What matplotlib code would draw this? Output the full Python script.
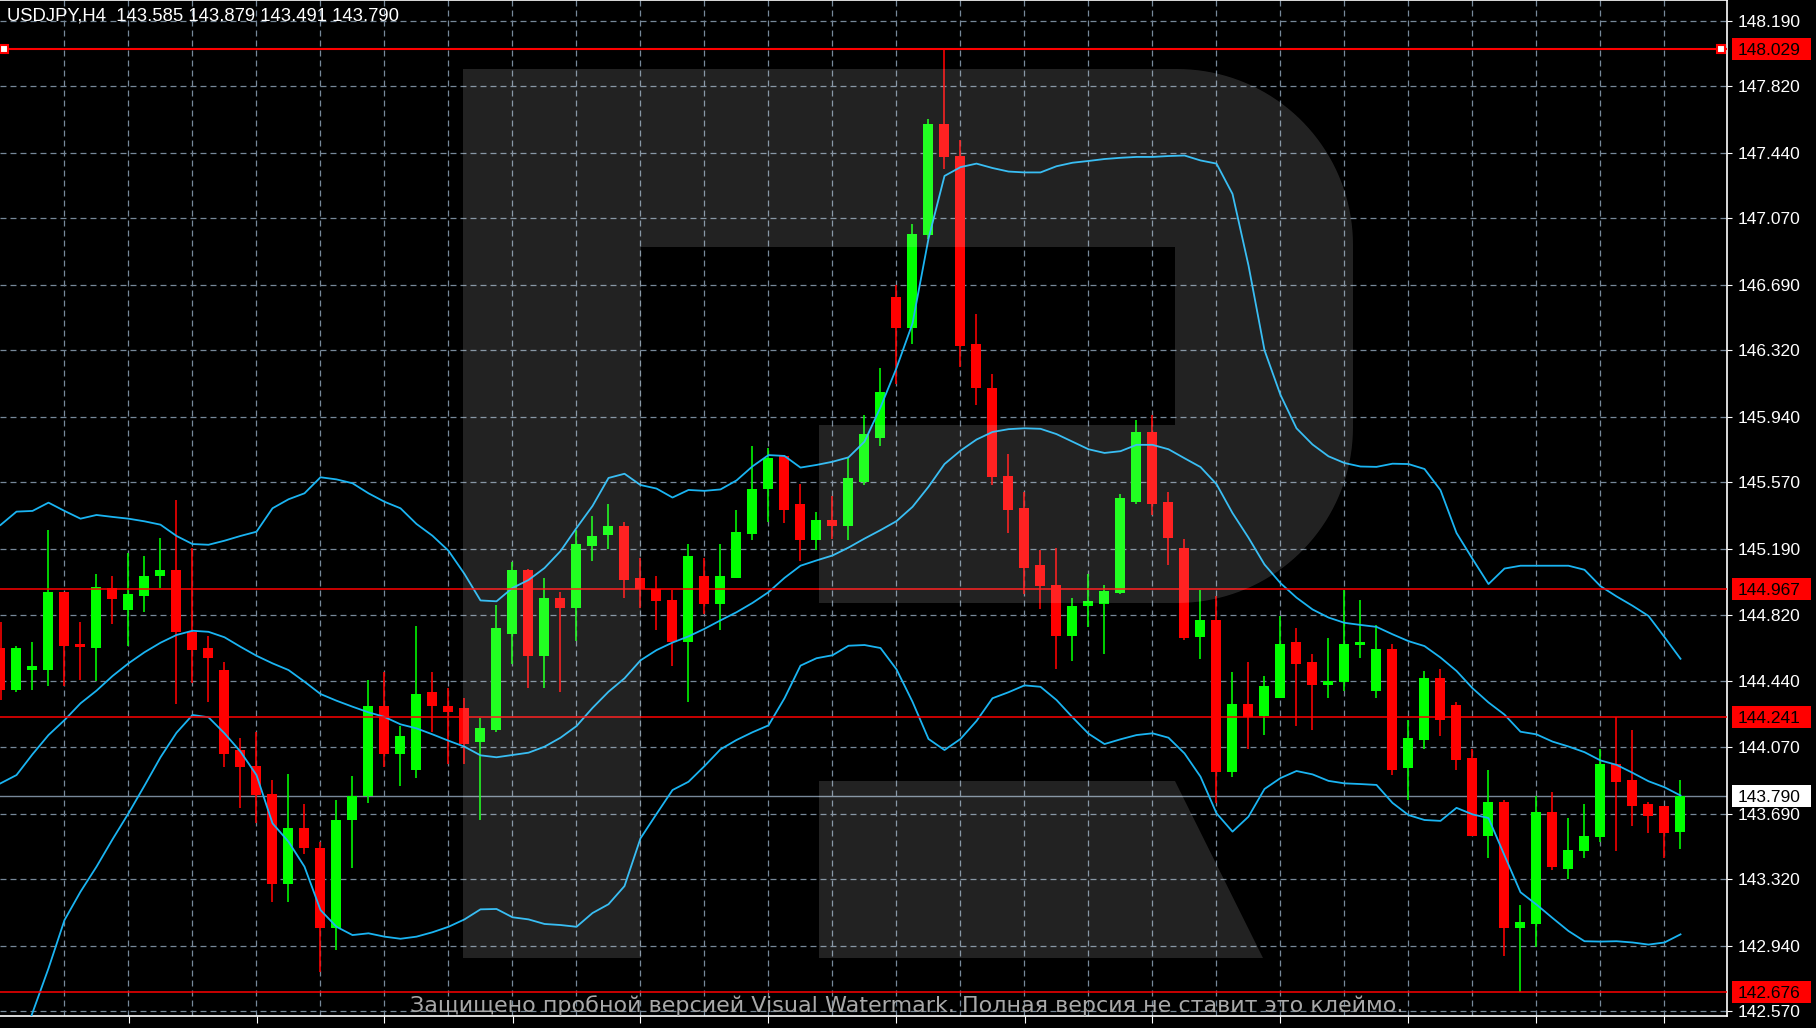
import numpy as np
import matplotlib.pyplot as plt
import matplotlib.transforms as mtransforms
from matplotlib.patches import Polygon, Rectangle

plt.rcParams['font.family'] = ['Liberation Sans', 'DejaVu Sans']
plt.rcParams['lines.scale_dashes'] = False

W, H = 1816, 1028

# header
title = "USDJPY,H4  143.585 143.879 143.491 143.790"
watermark = "Защищено пробной версией Visual Watermark. Полная версия не ставит это клеймо."

# H4 candles, oldest first
opens = [144.628, 144.392, 144.505, 144.505, 144.948, 144.653, 144.632, 144.969, 144.846, 144.927,
         145.040, 145.073, 144.723, 144.630, 144.505, 144.051, 143.962, 143.802, 143.292, 143.609,
         143.495, 143.043, 143.654, 143.792, 144.301, 144.030, 143.939, 144.381, 144.301, 144.290,
         144.098, 144.165, 144.711, 145.073, 144.586, 144.914, 144.859, 145.207, 145.269, 145.320,
         145.028, 144.965, 144.901, 144.666, 145.036, 144.881, 145.028, 145.276, 145.530, 145.720,
         145.446, 145.244, 145.358, 145.325, 145.573, 145.821, 146.624, 146.447, 146.972, 147.605,
         147.422, 146.356, 146.105, 145.606, 145.426, 145.099, 144.990, 144.699, 144.871, 144.881,
         144.944, 145.459, 145.856, 145.459, 145.198, 144.691, 144.789, 143.928, 144.312, 144.245,
         144.349, 144.662, 144.551, 144.418, 144.437, 144.645, 144.384, 144.622, 143.950, 144.108,
         144.460, 144.305, 144.008, 143.564, 143.758, 143.040, 143.063, 143.700, 143.376, 143.476,
         143.557, 143.974, 143.881, 143.742, 143.735, 143.585]
highs = [144.778, 144.643, 144.662, 145.300, 144.950, 144.776, 145.048, 145.037, 145.171, 145.152,
         145.253, 145.470, 145.196, 144.698, 144.549, 144.121, 144.152, 143.881, 143.915, 143.745,
         143.531, 143.767, 143.904, 144.448, 144.494, 144.189, 144.757, 144.494, 144.403, 144.346,
         144.233, 144.874, 145.116, 145.080, 145.027, 144.946, 145.300, 145.379, 145.446, 145.345,
         145.142, 145.036, 144.960, 145.218, 145.142, 145.218, 145.413, 145.775, 145.763, 145.725,
         145.560, 145.403, 145.492, 145.712, 145.953, 146.219, 146.688, 147.037, 147.630, 148.029,
         147.511, 146.523, 146.186, 145.730, 145.517, 145.188, 145.198, 144.914, 145.048, 144.990,
         145.504, 145.922, 145.953, 145.517, 145.251, 144.959, 144.925, 144.492, 144.549, 144.472,
         144.814, 144.742, 144.594, 144.687, 144.958, 144.900, 144.761, 144.650, 144.221, 144.502,
         144.513, 144.321, 144.059, 143.939, 143.765, 143.174, 143.793, 143.812, 143.665, 143.742,
         144.059, 144.241, 144.166, 143.758, 143.735, 143.879]
lows = [144.335, 144.382, 144.392, 144.416, 144.416, 144.448, 144.443, 144.768, 144.643, 144.836,
        144.972, 144.312, 144.430, 144.325, 143.953, 143.724, 143.635, 143.190, 143.190, 143.463,
        142.793, 142.916, 143.383, 143.749, 143.953, 143.847, 143.894, 144.155, 143.973, 143.973,
        143.656, 144.155, 144.541, 144.405, 144.405, 144.382, 144.671, 145.122, 145.193, 144.914,
        144.856, 144.732, 144.529, 144.326, 144.825, 144.732, 145.028, 145.244, 145.345, 145.339,
        145.124, 145.188, 145.251, 145.244, 145.553, 145.775, 146.130, 146.358, 146.949, 147.351,
        146.224, 146.008, 145.553, 145.282, 144.939, 144.851, 144.509, 144.555, 144.749, 144.597,
        144.939, 145.446, 145.383, 145.099, 144.673, 144.566, 143.749, 143.900, 144.055, 144.136,
        144.349, 144.187, 144.166, 144.349, 144.384, 144.576, 144.349, 143.909, 143.770, 144.055,
        144.131, 143.939, 143.561, 143.441, 142.885, 142.676, 142.932, 143.371, 143.320, 143.441,
        143.527, 143.476, 143.619, 143.580, 143.441, 143.491]
closes = [144.392, 144.630, 144.528, 144.948, 144.643, 144.634, 144.978, 144.906, 144.935, 145.037,
          145.073, 144.723, 144.619, 144.575, 144.030, 143.953, 143.794, 143.292, 143.609, 143.497,
          143.043, 143.654, 143.792, 144.301, 144.030, 144.131, 144.369, 144.303, 144.268, 144.087,
          144.176, 144.744, 145.073, 144.586, 144.914, 144.859, 145.218, 145.264, 145.320, 145.015,
          144.965, 144.894, 144.666, 145.155, 144.881, 145.036, 145.289, 145.535, 145.707, 145.415,
          145.244, 145.358, 145.325, 145.593, 145.844, 146.082, 146.447, 146.979, 147.605, 147.415,
          146.346, 146.105, 145.598, 145.415, 145.086, 144.983, 144.699, 144.871, 144.894, 144.952,
          145.479, 145.856, 145.446, 145.256, 144.686, 144.789, 143.928, 144.312, 144.240, 144.414,
          144.650, 144.541, 144.418, 144.444, 144.650, 144.662, 144.622, 143.939, 144.119, 144.460,
          144.224, 143.997, 143.564, 143.754, 143.040, 143.075, 143.700, 143.390, 143.483, 143.561,
          143.974, 143.870, 143.735, 143.677, 143.580, 143.790]

# Bollinger bands
bb_upper = [145.328, 145.404, 145.408, 145.455, 145.408, 145.364, 145.385, 145.374, 145.364, 145.349,
            145.330, 145.266, 145.220, 145.216, 145.239, 145.266, 145.290, 145.423, 145.474, 145.508,
            145.599, 145.587, 145.565, 145.508, 145.460, 145.423, 145.334, 145.267, 145.182, 145.050,
            144.900, 144.895, 144.971, 145.016, 145.084, 145.180, 145.311, 145.436, 145.595, 145.619,
            145.555, 145.535, 145.484, 145.527, 145.522, 145.530, 145.581, 145.661, 145.725, 145.720,
            145.654, 145.669, 145.687, 145.712, 145.801, 145.996, 146.219, 146.472, 146.953, 147.309,
            147.359, 147.379, 147.354, 147.334, 147.329, 147.329, 147.364, 147.384, 147.394, 147.405,
            147.412, 147.417, 147.417, 147.422, 147.425, 147.397, 147.379, 147.207, 146.801, 146.320,
            146.066, 145.877, 145.785, 145.718, 145.680, 145.660, 145.658, 145.676, 145.674, 145.646,
            145.526, 145.283, 145.136, 144.993, 145.081, 145.097, 145.097, 145.097, 145.097, 145.074,
            144.981, 144.923, 144.870, 144.812, 144.692, 144.569]
bb_middle = [143.862, 143.909, 144.027, 144.136, 144.221, 144.316, 144.388, 144.471, 144.543, 144.606,
             144.660, 144.704, 144.728, 144.722, 144.691, 144.637, 144.586, 144.543, 144.505, 144.439,
             144.369, 144.331, 144.297, 144.265, 144.239, 144.197, 144.174, 144.140, 144.104, 144.070,
             144.021, 144.010, 144.023, 144.036, 144.070, 144.121, 144.187, 144.290, 144.382, 144.458,
             144.560, 144.618, 144.661, 144.696, 144.739, 144.787, 144.833, 144.886, 144.947, 145.028,
             145.097, 145.127, 145.155, 145.200, 145.251, 145.299, 145.350, 145.431, 145.545, 145.674,
             145.750, 145.813, 145.856, 145.872, 145.877, 145.874, 145.844, 145.801, 145.758, 145.737,
             145.747, 145.783, 145.783, 145.758, 145.707, 145.657, 145.560, 145.396, 145.256, 145.104,
             144.998, 144.916, 144.849, 144.803, 144.773, 144.761, 144.750, 144.708, 144.669, 144.641,
             144.576, 144.500, 144.402, 144.321, 144.252, 144.155, 144.140, 144.099, 144.071, 144.039,
             143.992, 143.967, 143.922, 143.874, 143.840, 143.793]
bb_lower = [142.037, 142.303, 142.560, 142.812, 143.086, 143.247, 143.389, 143.544, 143.692, 143.849,
            144.010, 144.149, 144.250, 144.237, 144.146, 144.042, 143.909, 143.635, 143.531, 143.389,
            143.143, 143.048, 143.001, 143.011, 142.992, 142.980, 142.992, 143.017, 143.048, 143.090,
            143.147, 143.149, 143.102, 143.090, 143.064, 143.058, 143.048, 143.126, 143.176, 143.279,
            143.550, 143.688, 143.824, 143.871, 143.960, 144.055, 144.108, 144.152, 144.191, 144.345,
            144.530, 144.572, 144.589, 144.643, 144.647, 144.630, 144.509, 144.325, 144.114, 144.051,
            144.114, 144.216, 144.345, 144.379, 144.418, 144.410, 144.335, 144.237, 144.144, 144.085,
            144.112, 144.136, 144.146, 144.121, 144.032, 143.900, 143.692, 143.588, 143.673, 143.830,
            143.892, 143.932, 143.913, 143.876, 143.862, 143.858, 143.853, 143.751, 143.682, 143.654,
            143.649, 143.723, 143.686, 143.665, 143.453, 143.244, 143.174, 143.098, 143.024, 142.966,
            142.964, 142.966, 142.959, 142.947, 142.959, 143.005]

price_ticks = [148.190, 147.820, 147.440, 147.070, 146.690, 146.320, 145.940, 145.570,
               145.190, 144.820, 144.440, 144.070, 143.690, 143.320, 142.940, 142.570]
red_levels = [148.029, 144.967, 144.241, 142.676]
bid_price = 143.790

GRID = '#778899'
BULL, BEAR = '#00ff00', '#ff0000'
BAND = '#1ab4f2'

fig = plt.figure(figsize=(W / 100, H / 100), dpi=100, facecolor='black')
ax = fig.add_axes([0, 12 / H, 1727 / W, 1016 / H], facecolor='black')
ax.set_xlim(-0.5 / 16, 1726.5 / 16)
ax.set_ylim(142.5417, 148.3075)
ppu = 1016 / (148.3075 - 142.5417)  # pixels per price unit

# dashed grid
for p in price_ticks:
    ax.axhline(p, color=GRID, lw=0.9, ls=(0, (4.3, 2.9)), zorder=1)
for k in range(4, len(opens), 4):
    ax.axvline(k, color=GRID, lw=0.9, ls=(0, (4.3, 2.9)), zorder=1)

ax.axhline(bid_price, color=GRID, lw=1.0, zorder=1.5)

# candles
o, h, l, c = map(np.array, (opens, highs, lows, closes))
idx = np.arange(len(o))
cols = np.where(c >= o, BULL, BEAR)
ax.vlines(idx, l, h, colors=cols, lw=1.15, zorder=2)
body = np.maximum(np.abs(c - o), 1.5 / ppu)
ax.bar(idx, body, bottom=np.minimum(o, c), width=0.625, color=cols, linewidth=0, zorder=3)

# bands
for band in (bb_upper, bb_middle, bb_lower):
    ax.plot(idx, band, color=BAND, lw=1.3, zorder=4)

# horizontal levels
for i, p in enumerate(red_levels):
    ax.axhline(p, color='#ff0000', lw=1.5 if i == 0 else 1.1, zorder=5)
x0, x1 = ax.get_xlim()
ax.plot([x0 + 4 / 16, x1 - 6 / 16], [red_levels[0]] * 2, ls='none', marker='s', ms=6,
        mfc='white', mec='#ff0000', mew=1.5, zorder=6, clip_on=False)

# axes frame
for s in ('top', 'right', 'bottom'):
    ax.spines[s].set_color('white')
    ax.spines[s].set_linewidth(1.2)
ax.spines['left'].set_visible(False)

ax.set_xticks(np.arange(8, len(opens), 8))
ax.tick_params(axis='x', colors='white', length=5, width=0.8, labelbottom=False)
ax.yaxis.tick_right()
ax.set_yticks(price_ticks)
ax.set_yticklabels([f"{p:.3f}" for p in price_ticks])
ax.tick_params(axis='y', colors='white', length=3.6, width=0.8, pad=4.3, labelsize=12.5)

# price tags on the scale
yax = ax.get_yaxis_transform()
half = 11 / ppu
for p, fc in [(p, '#ff0000') for p in red_levels] + [(bid_price, 'white')]:
    ax.add_patch(Rectangle((1732 / 1727, p - half), 79 / 1727, 2 * half, transform=yax,
                           facecolor=fc, edgecolor='none', clip_on=False, zorder=8))
    ax.text(1738 / 1727, p, f"{p:.3f}", transform=yax, ha='left', va='center_baseline',
            color='black', fontsize=12.5, clip_on=False, zorder=9)

ax.text(7 / 1727, 148.3075 - 16 / ppu, title, transform=yax, color='white', fontsize=13.3,
        ha='left', va='center', zorder=9)

# logo overlay, figure pixel coordinates
px = mtransforms.Affine2D().scale(1 / W, -1 / H).translate(0, 1) + fig.transFigure


def arc(cx, cy, r, a0, a1, n=40):
    t = np.radians(np.linspace(a0, a1, n))
    return [(cx + r * np.cos(a), cy - r * np.sin(a)) for a in t]


r = 176
bowl = ([(463, 69), (1177, 69)] + arc(1177, 245, r, 90, 0) + arc(1177, 427, r, 0, -90)
        + [(819, 603), (819, 425), (1175, 425), (1175, 247), (641, 247), (641, 958), (463, 958)])
leg = [(819, 781), (1175, 781), (1263, 958), (819, 958)]
for poly in (bowl, leg):
    fig.add_artist(Polygon(poly, closed=True, transform=px, facecolor='white',
                           edgecolor='none', alpha=0.137, zorder=10))

wm = fig.text(907, 1006, watermark, transform=px, ha='center', va='center',
              color='#a8a8a8', fontsize=15, family='DejaVu Sans', zorder=11)
fig.canvas.draw()
wm.set_fontsize(15 * 993 / wm.get_window_extent().width)

fig.savefig('out.png', dpi=100, facecolor='black')
